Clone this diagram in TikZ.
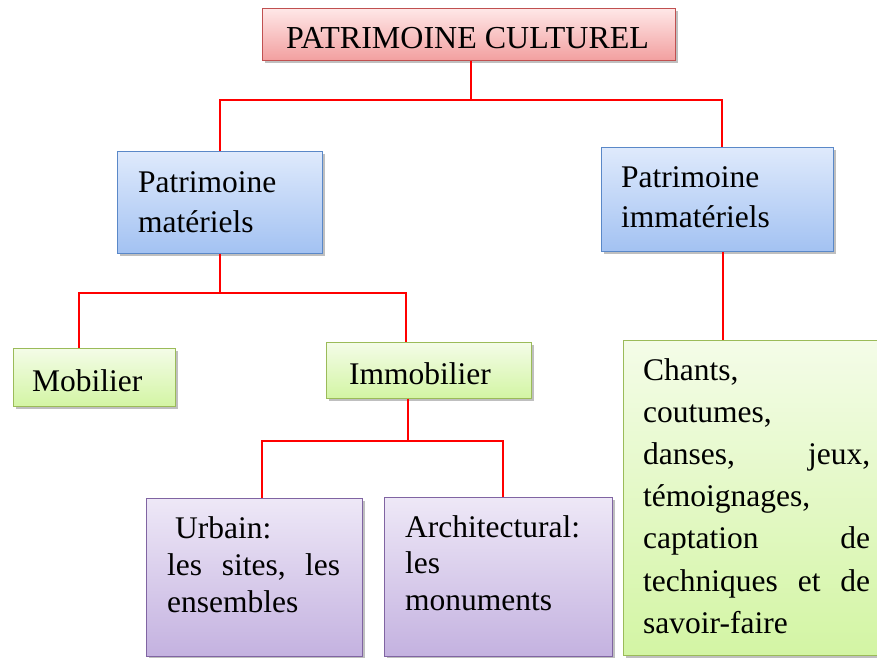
\documentclass[tikz,border=0pt]{standalone}
\usepackage{fontspec}
\setmainfont{Liberation Serif}
\usetikzlibrary{shadows}

\definecolor{titletop}{HTML}{FFE8E8}
\definecolor{titlebot}{HTML}{F2A0A0}
\definecolor{titleline}{HTML}{C05050}
\definecolor{mattop}{HTML}{DFEAFC}
\definecolor{matbot}{HTML}{A3C2F2}
\definecolor{matline}{HTML}{5A88C8}
\definecolor{mobtop}{HTML}{F4FCE8}
\definecolor{mobbot}{HTML}{D3F5A4}
\definecolor{mobline}{HTML}{9BBB59}
\definecolor{urbtop}{HTML}{EEE8F7}
\definecolor{urbbot}{HTML}{C4B2E0}
\definecolor{urbline}{HTML}{8064A2}

\tikzset{
  box/.style={draw, line width=1pt, inner sep=0pt,
    drop shadow={shadow xshift=2.5pt, shadow yshift=-3pt, fill=black, opacity=.25}},
  titlebox/.style={box, draw=titleline, top color=titletop, bottom color=titlebot},
  matbox/.style={box, draw=matline, top color=mattop, bottom color=matbot},
  mobbox/.style={box, draw=mobline, top color=mobtop, bottom color=mobbot},
  urbbox/.style={box, draw=urbline, top color=urbtop, bottom color=urbbot},
  txt/.style={inner sep=0pt, anchor=base west, align=left,
    font=\fontsize{31.5}{40.5}\selectfont},
  link/.style={draw=red, line width=2pt}
}

\begin{document}
\begin{tikzpicture}[x=1pt,y=-1pt]
    \useasboundingbox (0,0) rectangle (877,657);

    % boxes
    \node[titlebox, minimum width=413, minimum height=52] (patr)   at (468.5,34)  {};
    \node[matbox,   minimum width=205, minimum height=102] (mat)  at (220,202)   {};
    \node[matbox,   minimum width=232, minimum height=104] (immat) at (717,199)  {};
    \node[mobbox,   minimum width=162, minimum height=58] (mob)   at (94,377)    {};
    \node[mobbox,   minimum width=205, minimum height=56] (immob) at (429,370)   {};
    \node[urbbox,   minimum width=216, minimum height=158] (urb)  at (254,577)   {};
    \node[urbbox,   minimum width=228, minimum height=159] (arch) at (498,576.5) {};
    \node[mobbox,   minimum width=272, minimum height=315] (chants) at (759,497.5) {};

    % texts
    \node[txt, anchor=base, font=\fontsize{32}{40}\selectfont] (patr-t) at (467.5,48) {PATRIMOINE CULTUREL};
    \node[txt, text width=180] (mat-t)   at (138,192) {Patrimoine\\matériels};
    \node[txt, text width=200] (immat-t) at (621,187) {Patrimoine\\immatériels};
    \node[txt, text width=130] (mob-t)   at (32,391)  {Mobilier};
    \node[txt, text width=170] (immob-t) at (349,384) {Immobilier};
    \node[txt, text width=173, font=\fontsize{31.5}{37}\selectfont] (urb-t) at (167,538)
        {\hspace*{8pt}Urbain:\\les\hfill sites,\hfill les\\ensembles};
    \node[txt, text width=200, font=\fontsize{31.5}{36.5}\selectfont] (arch-t) at (405,537)
        {Architectural:\\les\\monuments};
    \node[txt, text width=227, font=\fontsize{31.5}{42.2}\selectfont] (chants-t) at (643,380)
        {Chants,\\coutumes,\\danses,\hfill jeux,\\témoignages,\\captation\hfill de\\
         techniques\hfill et\hfill de\\savoir-faire};

    % connectors
    \coordinate (j0) at (471,100);
    \coordinate (j1) at (220,293);
    \coordinate (j2) at (408,441);
    \draw[link] (patr.south -| j0) -- (j0);
    \draw[link] (j0) -| (mat.north);
    \draw[link] (j0) -| ([xshift=5pt]immat.north);
    \draw[link] (mat.south) -- (j1);
    \draw[link] (j1) -| ([xshift=-15pt]mob.north);
    \draw[link] (j1) -| ([xshift=-23pt]immob.north);
    \draw[link] (immob.south -| j2) -- (j2);
    \draw[link] (j2) -| ([xshift=8pt]urb.north);
    \draw[link] (j2) -| ([xshift=5pt]arch.north);
    \draw[link] ([xshift=6pt]immat.south) -- ([xshift=6pt]immat.south |- chants.north);
\end{tikzpicture}
\end{document}
